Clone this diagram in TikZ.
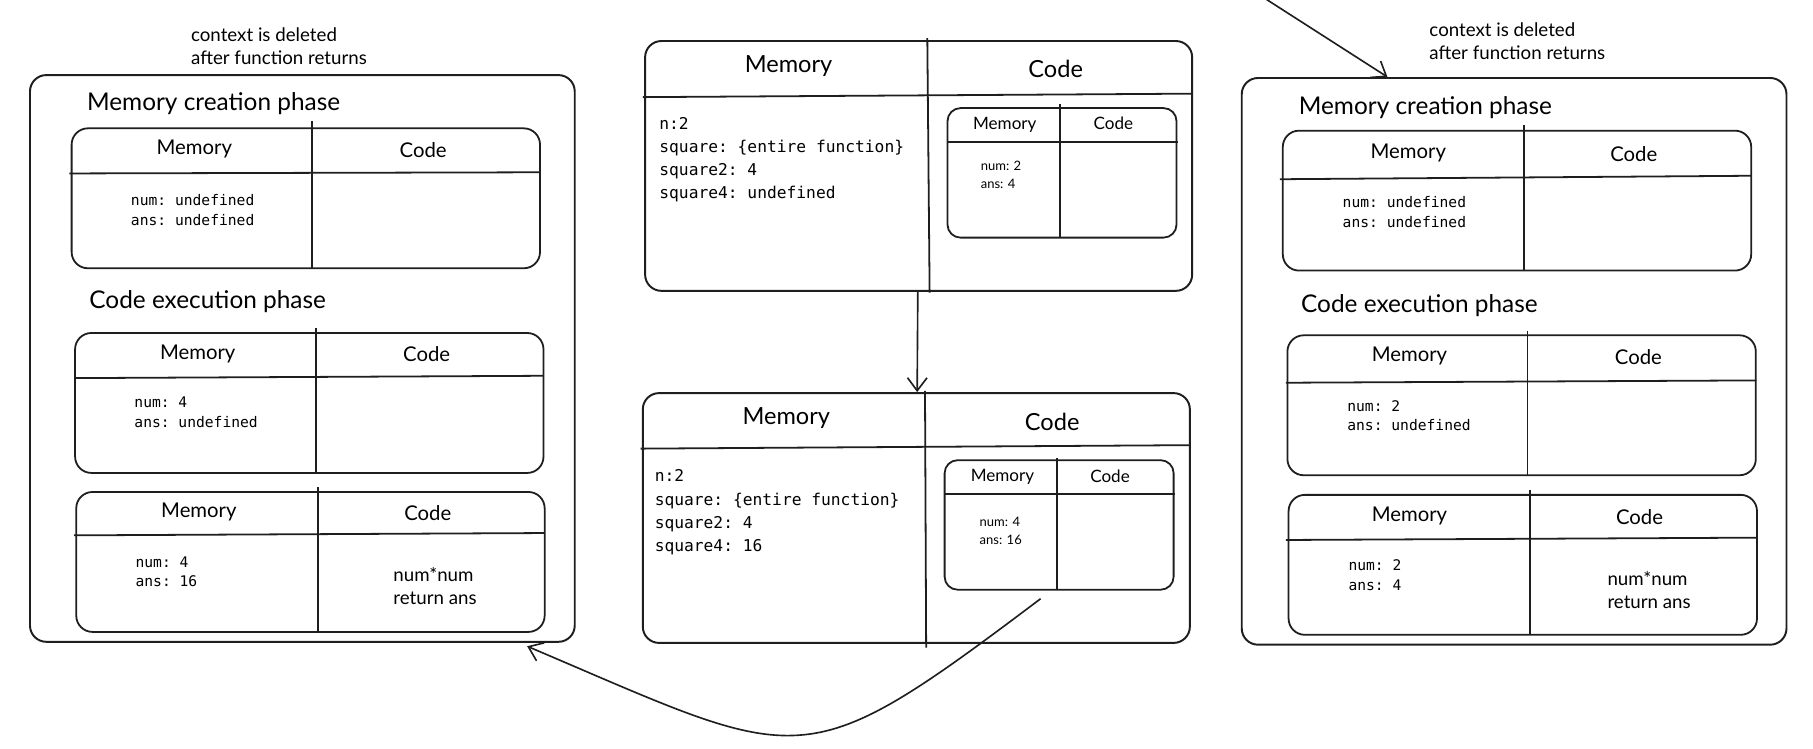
\documentclass[tikz,border=0pt]{standalone}
\usepackage{fontspec}
\setmainfont{Lato}
\setmonofont{DejaVu Sans Mono}
\usetikzlibrary{arrows.meta}
\definecolor{ink}{HTML}{1E1E1E}
\tikzstyle{ctx} = [draw=ink, line width=1.2pt, rounded corners=10pt, minimum width=11.775cm, minimum height=12.25cm]
\tikzstyle{tbl} = [draw=ink, line width=1.1pt, rounded corners=10pt, minimum width=10.125cm, minimum height=3.025cm]
\tikzstyle{big} = [draw=ink, line width=1.2pt, rounded corners=10pt, minimum width=11.825cm, minimum height=5.4cm]
\tikzstyle{mini} = [draw=ink, line width=1.1pt, rounded corners=8pt, minimum width=4.95cm, minimum height=2.8cm]
\tikzstyle{rule} = [draw=ink, line width=1.1pt]
\tikzstyle{arrow} = [draw=ink, line width=1pt, ->, >={Straight Barb[length=8pt,width=12pt]}]
\tikzstyle{note} = [font=\fontsize{11.5}{14.2}\selectfont, align=left, anchor=west, inner sep=0]
\tikzstyle{phase} = [font=\fontsize{15}{18}\selectfont, anchor=west, inner sep=0]
\tikzstyle{head} = [font=\fontsize{12.5}{14}\selectfont, inner sep=0]
\tikzstyle{bighead} = [font=\fontsize{14.5}{16}\selectfont, inner sep=0]
\tikzstyle{minihead} = [font=\fontsize{10.5}{12}\selectfont, inner sep=0]
\tikzstyle{vars} = [font=\ttfamily\fontsize{9}{12.1}\selectfont, align=left, anchor=west, inner sep=0]
\tikzstyle{bigvars} = [font=\ttfamily\fontsize{10}{14.2}\selectfont, align=left, anchor=west, inner sep=0]
\tikzstyle{minivars} = [font=\fontsize{8}{11}\selectfont, align=left, anchor=west, inner sep=0]
\tikzstyle{codetext} = [font=\fontsize{11.5}{14.2}\selectfont, align=left, anchor=west, inner sep=0]

\begin{document}
\begin{tikzpicture}[x=0.025cm, y=-0.025cm]
\useasboundingbox (0,0) rectangle (1568,647);

\node (ctxL) [ctx] at (261.5,310) {};
\node (noteL) [note] at (165,40) {context is deleted\\after function returns};
\node (memphL) [phase] at (75,90) {Memory creation phase};
\node (exephL) [phase] at (77,261) {Code execution phase};

\node (tblL1) [tbl] at (264.5,171.5) {};
\draw [rule] (270,105) -- (270,232);
\draw [rule] (60,150) -- (467,149);
\node (memL1) [head] at (168,129) {Memory};
\node (codeL1) [head] at (366,130) {Code};
\node (varsL1) [vars] at (113,181.5) {num: undefined\\ans: undefined};

\node (tblL2) [tbl] at (267.5,348.5) {};
\draw [rule] (273,284) -- (273,409);
\draw [rule] (65,327) -- (470,325);
\node (memL2) [head] at (171,306) {Memory};
\node (codeL2) [head] at (369,306) {Code};
\node (varsL2) [vars] at (116,356.5) {num: 4\\ans: undefined};

\node (tblL3) [tbl] at (268.5,486) {};
\draw [rule] (275,421) -- (275,547);
\draw [rule] (64,463) -- (471,461);
\node (memL3) [head] at (172,443) {Memory};
\node (codeL3) [head] at (370,444) {Code};
\node (varsL3) [vars] at (117,494.5) {num: 4\\ans: 16};
\node (runL3) [codetext] at (340,507) {num*num\\return ans};

\node (midT) [big] at (794.5,143.5) {};
\draw [rule] (802,33) -- (804,253);
\draw [rule] (556,84) -- (1031,81);
\node (memT) [bighead] at (682,57) {Memory};
\node (codeT) [bighead] at (913,60) {Code};
\node (varsT) [bigvars] at (570,138) {n:2\\square: \{entire function\}\\square2: 4\\square4: undefined};
\node (innT) [mini] at (918.5,149.5) {};
\draw [rule] (917,90) -- (917,206);
\draw [rule] (819,123) -- (1019,123);
\node (memiT) [minihead] at (869,108) {Memory};
\node (codeiT) [minihead] at (963,107) {Code};
\node (varsiT) [minivars] at (848,151.5) {num: 2\\ans: 4};

\node (midB) [big] at (792.5,448) {};
\draw [rule] (800,338) -- (801,560);
\draw [rule] (554,388) -- (1029,385);
\node (memB) [bighead] at (680,362) {Memory};
\node (codeB) [bighead] at (910,365) {Code};
\node (varsB) [bigvars] at (566,443) {n:2\\square: \{entire function\}\\square2: 4\\square4: 16};
\node (innB) [mini] at (916,454) {};
\draw [rule] (914,396) -- (914,510);
\draw [rule] (817,427) -- (1016,427);
\node (memiB) [minihead] at (867,412) {Memory};
\node (codeiB) [minihead] at (960,412) {Code};
\node (varsiB) [minivars] at (847,459.5) {num: 4\\ans: 16};

\node (ctxR) [ctx] at (1309.5,312.5) {};
\node (noteR) [note] at (1236,36) {context is deleted\\after function returns};
\node (memphR) [phase] at (1123,93) {Memory creation phase};
\node (exephR) [phase] at (1125,264) {Code execution phase};

\node (tblR1) [tbl] at (1312,173.5) {};
\draw [rule] (1318,108) -- (1318,234);
\draw [rule] (1107,155) -- (1515,152);
\node (memR1) [head] at (1218,132) {Memory};
\node (codeR1) [head] at (1413,133) {Code};
\node (varsR1) [vars] at (1161,183.5) {num: undefined\\ans: undefined};

\node (tblR2) [tbl] at (1316,350.5) {};
\draw [rule] (1321,286) -- (1321,411);
\draw [rule] (1112,331) -- (1519,329);
\node (memR2) [head] at (1219,308) {Memory};
\node (codeR2) [head] at (1417,309) {Code};
\node (varsR2) [vars] at (1165,359.5) {num: 2\\ans: undefined};

\node (tblR3) [tbl] at (1317,488.5) {};
\draw [rule] (1323,424) -- (1323,549);
\draw [rule] (1112,467) -- (1519,465);
\node (memR3) [head] at (1219,446) {Memory};
\node (codeR3) [head] at (1418,447) {Code};
\node (varsR3) [vars] at (1166,497.5) {num: 2\\ans: 4};
\node (runR3) [codetext] at (1390,510) {num*num\\return ans};

\coordinate (callR) at (1093,-2);
\draw [arrow] (midT) -- (midB);
\draw [arrow] ([xshift=-0.4cm,yshift=-0.175cm]innB.south) to[out=217,in=-23,looseness=1.5] ([xshift=-1.05cm,yshift=-0.075cm]ctxL.south east);
\draw [arrow] (callR) -- ([xshift=-2.7375cm]ctxR.north);

\end{tikzpicture}
\end{document}
